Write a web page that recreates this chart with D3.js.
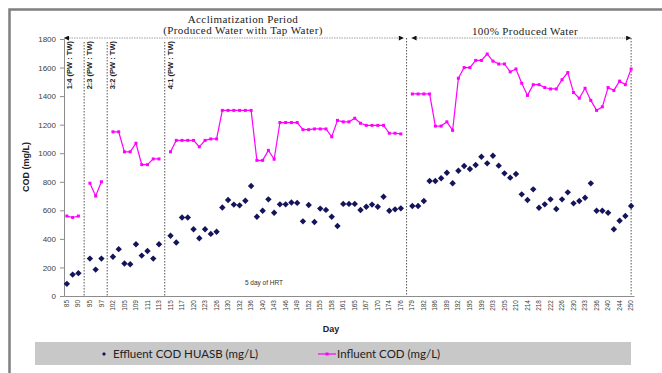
<!DOCTYPE html>
<html>
<head>
<meta charset="utf-8">
<script src="https://cdn.jsdelivr.net/npm/d3@7"></script>
<style>
    html, body { margin: 0; padding: 0; background: #fff; }
    svg { display: block; }
</style>
</head>
<body>
<div id="chart"></div>
<script>
// Day labels shown on every second category
const dayLabels = [85, 90, 95, 97, 102, 105, 109, 111, 113, 115, 117, 120, 123, 126, 130, 132, 136, 140, 143, 146,
    149, 152, 155, 158, 161, 165, 167, 170, 174, 176, 179, 182, 186, 189, 192, 195, 199, 203, 205, 210,
    214, 218, 222, 226, 230, 233, 236, 240, 244, 250];

// One entry per category, null = gap between phases
const effluent = [85, 150, 160, null,
    262, 185, 262, null,
    275, 328, 228, 222, 362, 283, 315, 262, 362, null,
    422, 375, 550, 550, 467, 405, 467, 435, 450, 620, 672, 640, 635, 667, 770, 555, 597, 677, 583, 642,
    642, 655, 652, 523, 637, 518, 612, 603, 555, 490, 645, 645, 645, 602, 625, 640, 625, 695, 597, 607, 614, null,
    630, 630, 665, 805, 805, 825, 863, 790, 877, 910, 890, 917, 975, 929, 982, 913, 859, 829, 854, 712,
    672, 747, 618, 642, 677, 609, 677, 726, 649, 665, 688, 789, 597, 597, 583, 467, 527, 560, 630];

const influent = [560, 550, 560, null,
    790, 700, 800, null,
    1150, 1150, 1010, 1010, 1070, 920, 920, 960, 960, null,
    1010, 1090, 1090, 1090, 1090, 1045, 1090, 1100, 1100, 1300, 1300, 1300, 1300, 1300, 1300, 950, 950, 1020, 958, 1215,
    1215, 1215, 1215, 1165, 1165, 1170, 1170, 1170, 1115, 1230, 1220, 1220, 1245, 1210, 1195, 1195, 1195, 1195, 1140, 1140, 1135, null,
    1415, 1415, 1415, 1415, 1190, 1190, 1220, 1160, 1525, 1600, 1600, 1650, 1650, 1695, 1645, 1625, 1625, 1570, 1590, 1490,
    1405, 1480, 1480, 1460, 1450, 1450, 1515, 1565, 1425, 1385, 1455, 1370, 1300, 1325, 1460, 1440, 1505, 1480, 1590];

const yTicks = [0, 200, 400, 600, 800, 1000, 1200, 1400, 1600, 1800];

// Phase boundaries (category index of the dashed line) and ratio labels
const phaseLines = [3, 7, 17, 59, 98];
const ratioLabels = ['1:4 (PW : TW)', '2:3 (PW : TW)', '3:2 (PW : TW)', '4:1 (PW : TW)'];

const colors = {
    effluent: '#14145a',
    influent: '#ff00ff',
    axis: '#8c8c8c',
    text: '#404040'
};

const width = 662, height = 373;
const svg = d3.select('#chart').append('svg')
    .attr('width', width)
    .attr('height', height);

// Outer frame (right and bottom edges fall outside the picture)
svg.append('rect')
    .attr('x', 9.5).attr('y', 9.5)
    .attr('width', 700).attr('height', 400)
    .attr('fill', 'none')
    .attr('stroke', '#7f7f7f')
    .attr('stroke-width', 2.5);

const x = d3.scaleBand()
    .domain(d3.range(effluent.length))
    .range([64, 634]);
const cx = i => x(i) + x.bandwidth() / 2;

const y = d3.scaleLinear()
    .domain([0, 1800])
    .range([296, 39]);

const diamond = r => `M0,${-r}L${r},0L0,${r}L${-r},0Z`;

// Y axis
const yAxis = svg.append('g')
    .attr('transform', 'translate(64,0)')
    .call(d3.axisLeft(y).tickValues(yTicks).tickFormat(d3.format('d')).tickSize(4).tickPadding(4));
yAxis.select('.domain').attr('stroke', colors.axis);
yAxis.selectAll('line').attr('stroke', colors.axis);
yAxis.selectAll('text')
    .attr('fill', colors.text)
    .style('font', '8px "Liberation Sans", Arial, sans-serif');

// X axis
const xAxis = svg.append('g')
    .attr('transform', 'translate(0,296)')
    .call(d3.axisBottom(x)
        .tickValues(d3.range(0, effluent.length, 2))
        .tickFormat((d, i) => dayLabels[i])
        .tickSize(0));
xAxis.select('.domain').attr('stroke', colors.axis);
xAxis.selectAll('text')
    .attr('transform', 'rotate(-90)')
    .attr('x', -4)
    .attr('y', 0)
    .attr('dy', '0.32em')
    .style('text-anchor', 'end')
    .attr('fill', colors.text)
    .style('font', '6.5px "Liberation Sans", Arial, sans-serif');

// Phase dashed lines
phaseLines.forEach((p, i) => {
    svg.append('line')
        .attr('x1', cx(p)).attr('x2', cx(p))
        .attr('y1', i < 3 ? 42 : 38).attr('y2', 296)
        .attr('stroke', '#555')
        .attr('stroke-width', 1)
        .attr('stroke-dasharray', '1.5,1.5');
});

// Ratio labels
const ratioX = [64, cx(3), cx(7), cx(17)];
ratioLabels.forEach((t, i) => {
    svg.append('text')
        .attr('transform', `translate(${ratioX[i] + 8},41) rotate(-90)`)
        .attr('text-anchor', 'end')
        .style('font', 'bold 7.5px "Liberation Sans", Arial, sans-serif')
        .attr('fill', '#222')
        .text(t);
});

// Period arrows
const defs = svg.append('defs');
defs.append('marker')
    .attr('id', 'arrow')
    .attr('viewBox', '0 0 10 10')
    .attr('refX', 10).attr('refY', 5)
    .attr('markerWidth', 7).attr('markerHeight', 5)
    .attr('markerUnits', 'userSpaceOnUse')
    .attr('orient', 'auto-start-reverse')
    .append('path')
    .attr('d', 'M0,0L10,5L0,10Z')
    .attr('fill', '#111');

[[64, cx(58) + 3], [cx(59) + 5, cx(98)]].forEach(([a, b]) => {
    svg.append('line')
        .attr('x1', a).attr('x2', b)
        .attr('y1', 38).attr('y2', 38)
        .attr('stroke', '#888')
        .attr('stroke-width', 0.8)
        .attr('stroke-dasharray', '1.5,1')
        .attr('marker-start', 'url(#arrow)')
        .attr('marker-end', 'url(#arrow)');
});

// Period titles
const serif = '"Liberation Serif", "Times New Roman", serif';
svg.append('text')
    .attr('x', 243).attr('y', 23)
    .attr('text-anchor', 'middle')
    .style('font', `11px ${serif}`)
    .style('letter-spacing', '0.4px')
    .attr('fill', '#222')
    .text('Acclimatization  Period');
svg.append('text')
    .attr('x', 243).attr('y', 34)
    .attr('text-anchor', 'middle')
    .style('font', `11px ${serif}`)
    .style('letter-spacing', '0.4px')
    .attr('fill', '#222')
    .text('(Produced Water with Tap Water)');
svg.append('text')
    .attr('x', 525).attr('y', 35)
    .attr('text-anchor', 'middle')
    .style('font', `11px ${serif}`)
    .style('letter-spacing', '0.4px')
    .attr('fill', '#222')
    .text('100% Produced Water');

svg.append('text')
    .attr('x', 264).attr('y', 285)
    .attr('text-anchor', 'middle')
    .style('font', '6.5px "Liberation Sans", Arial, sans-serif')
    .attr('fill', '#333')
    .text('5 day of HRT');

// Influent line
svg.append('path')
    .datum(influent.map((v, i) => [i, v]))
    .attr('fill', 'none')
    .attr('stroke', colors.influent)
    .attr('stroke-width', 1.2)
    .attr('d', d3.line()
        .defined(d => d[1] != null)
        .x(d => cx(d[0]))
        .y(d => y(d[1])));

svg.append('g')
    .selectAll('rect')
    .data(influent.map((v, i) => [i, v]).filter(d => d[1] != null))
    .join('rect')
    .attr('x', d => cx(d[0]) - 1.5)
    .attr('y', d => y(d[1]) - 1.5)
    .attr('width', 3).attr('height', 3)
    .attr('fill', colors.influent);

// Effluent points
svg.append('g')
    .selectAll('path')
    .data(effluent.map((v, i) => [i, v]).filter(d => d[1] != null))
    .join('path')
    .attr('transform', d => `translate(${cx(d[0])},${y(d[1])})`)
    .attr('d', diamond(3.2))
    .attr('fill', colors.effluent);

// Axis titles
svg.append('text')
    .attr('transform', 'translate(29,167) rotate(-90)')
    .attr('text-anchor', 'middle')
    .style('font', 'bold 9px "Liberation Sans", Arial, sans-serif')
    .attr('fill', '#222')
    .text('COD (mg/L)');
svg.append('text')
    .attr('x', 331).attr('y', 332)
    .attr('text-anchor', 'middle')
    .style('font', 'bold 9px "Liberation Sans", Arial, sans-serif')
    .attr('fill', '#222')
    .text('Day');

// Legend
svg.append('rect')
    .attr('x', 35).attr('y', 342)
    .attr('width', 596).attr('height', 23)
    .attr('fill', '#c8c8c8');

svg.append('path')
    .attr('transform', 'translate(104,354)')
    .attr('d', diamond(2))
    .attr('fill', colors.effluent);
svg.append('text')
    .attr('x', 113).attr('y', 358)
    .style('font', '11.5px Lato, sans-serif')
    .attr('fill', '#222')
    .text('Effluent COD HUASB (mg/L)');

svg.append('line')
    .attr('x1', 318).attr('x2', 336)
    .attr('y1', 354).attr('y2', 354)
    .attr('stroke', colors.influent)
    .attr('stroke-width', 1.2);
svg.append('rect')
    .attr('x', 325.5).attr('y', 352.5)
    .attr('width', 3).attr('height', 3)
    .attr('fill', colors.influent);
svg.append('text')
    .attr('x', 337).attr('y', 358)
    .style('font', '11.5px Lato, sans-serif')
    .attr('fill', '#222')
    .text('Influent COD (mg/L)');
</script>
</body>
</html>
